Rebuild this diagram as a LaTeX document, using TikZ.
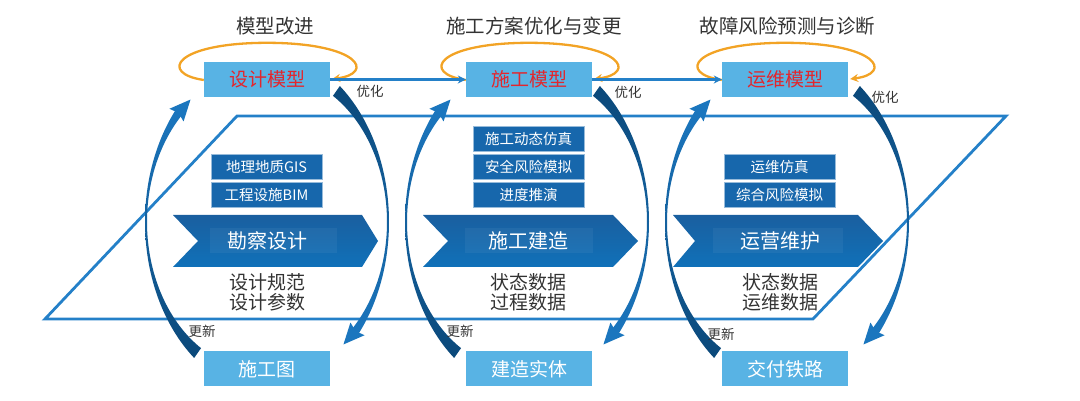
\documentclass[tikz,border=0pt]{standalone}
\usepackage{fontspec}
\setmainfont{Noto Sans CJK SC}
\usetikzlibrary{arrows.meta,calc}
\definecolor{boxblue}{HTML}{58B3E4}
\definecolor{subblue}{HTML}{1767AC}
\definecolor{linblue}{HTML}{2480C8}
\definecolor{navy}{HTML}{0B4879}
\definecolor{midblue}{HTML}{1B76BE}
\definecolor{chevtop}{HTML}{1A5F9F}
\definecolor{chevbot}{HTML}{1071B9}
\definecolor{orng}{HTML}{F2A325}
\definecolor{redtxt}{HTML}{E3262D}
\definecolor{graytxt}{HTML}{333333}
\newcommand\cyclearcs[1]{%
  \shade[top color=midblue, bottom color=navy]
    plot[domain=235:137, samples=60] ({#1+(122+5*((\x-180)/55)*((\x-180)/55))*cos(\x)}, {179+(161+5*((\x-180)/55)*((\x-180)/55))*sin(\x)})
    -- plot[domain=137:235, samples=60] ({#1+(120-5*((\x-180)/55)*((\x-180)/55))*cos(\x)}, {179+(159-5*((\x-180)/55)*((\x-180)/55))*sin(\x)}) -- cycle;
  \begin{scope}[shift={(#1-88.5,288.1)}, rotate=48]
    \fill[midblue] (-3,9.5) -- (18,0) -- (-3,-9.5) -- (0,0) -- cycle;
  \end{scope}
  \shade[top color=navy, bottom color=midblue]
    plot[domain=55:-43, samples=60] ({#1+(122+5*(\x/55)*(\x/55))*cos(\x)}, {179+(161+5*(\x/55)*(\x/55))*sin(\x)})
    -- plot[domain=-43:55, samples=60] ({#1+(120-5*(\x/55)*(\x/55))*cos(\x)}, {179+(159-5*(\x/55)*(\x/55))*sin(\x)}) -- cycle;
  \begin{scope}[shift={(#1+88.5,69.9)}, rotate=228]
    \fill[midblue] (-3,9.5) -- (18,0) -- (-3,-9.5) -- (0,0) -- cycle;
  \end{scope}
}
\begin{document}
\begin{tikzpicture}[x=1pt,y=1pt,
  modelbox/.style={fill=boxblue, minimum width=126pt, minimum height=35pt, inner sep=0pt, font=\fontsize{19}{22}\selectfont},
  subbox/.style={fill=subblue, draw=white!55!subblue, line width=0.8pt, minimum width=111pt, minimum height=25pt, inner sep=0pt, text=white, font=\fontsize{14.5}{17}\selectfont},
  chevtext/.style={text=white, font=\fontsize{20}{22}\selectfont},
  titletext/.style={text=graytxt, font=\fontsize{19.5}{22}\selectfont},
  smalltext/.style={text=graytxt, font=\fontsize{13.5}{16}\selectfont},
  datatext/.style={text=graytxt, font=\fontsize{19}{20}\selectfont, align=center},
  chev/.style={top color=chevtop, bottom color=chevbot},
  loopline/.style={orng, line width=2.3pt, -{Stealth[length=8pt,width=8pt]}},
  flowline/.style={linblue, line width=2.2pt, -{Stealth[length=8pt,width=8pt]}}
]
\useasboundingbox (0,0) rectangle (1080,401);
% parallelogram
\draw[linblue, line width=2.8pt, line join=miter] (45,82) -- (813,82) -- (1006,285) -- (237,285) -- cycle;
% chevrons
\shade[chev] (173,186) -- (362,186) -- (378,160) -- (362,134) -- (173,134) -- (198,160) -- cycle;
\shade[chev] (423,186) -- (613,186) -- (638,160) -- (613,134) -- (423,134) -- (448,160) -- cycle;
\shade[chev] (673,186) -- (858,186) -- (883,160) -- (858,134) -- (673,134) -- (695,160) -- cycle;
\fill[white, opacity=0.05] (210,148) rectangle (337,173);
\fill[white, opacity=0.05] (465,148) rectangle (593,173);
\fill[white, opacity=0.05] (713,148) rectangle (843,173);
\node[chevtext] (c1) at (267,160) {勘察设计};
\node[chevtext] (c2) at (528,160) {施工建造};
\node[chevtext] (c3) at (780,160) {运营维护};
% sub boxes
\node[subbox] (s11) at (266.5,234) {地理地质GIS};
\node[subbox] (s12) at (266.5,206) {工程设施BIM};
\node[subbox] (s21) at (528.5,262) {施工动态仿真};
\node[subbox] (s22) at (528.5,234) {安全风险模拟};
\node[subbox] (s23) at (528.5,206) {进度推演};
\node[subbox] (s31) at (779.5,234) {运维仿真};
\node[subbox] (s32) at (779.5,206) {综合风险模拟};
% data texts
\node[datatext] (d1) at (267,109) {设计规范\\设计参数};
\node[datatext] (d2) at (528,109) {状态数据\\过程数据};
\node[datatext] (d3) at (780,109) {状态数据\\运维数据};
% cycle arcs
\cyclearcs{267}
\cyclearcs{527}
\cyclearcs{787}
% titles
\node[titletext] (t1) at (275,375) {模型改进};
\node[titletext] (t2) at (534,375) {施工方案优化与变更};
\node[titletext] (t3) at (787.5,375) {故障风险预测与诊断};
% model boxes
\node[modelbox, text=redtxt] (m1) at (267,321.5) {设计模型};
\node[modelbox, text=redtxt] (m2) at (529,321.5) {施工模型};
\node[modelbox, text=redtxt] (m3) at (785,321.5) {运维模型};
\node[modelbox, text=white] (b1) at (266.5,32) {施工图};
\node[modelbox, text=white] (b2) at (529,32) {建造实体};
\node[modelbox, text=white] (b3) at (785,32) {交付铁路};
% labels
\node[smalltext] (u1) at (370,310) {优化};
\node[smalltext] (u2) at (628,309) {优化};
\node[smalltext] (u3) at (885,304) {优化};
\node[smalltext] (g1) at (202,70) {更新};
\node[smalltext] (g2) at (460,70) {更新};
\node[smalltext] (g3) at (721,67) {更新};
% orange loops
\foreach \m in {m1,m2,m3}{
  \draw[loopline] ($(\m.west)+(0,-0.5)$) .. controls ($(\m.west)+(-45,6)$) and ($(\m.west)+(-30,36.5)$) .. ($(\m.north)+(0,19)$)
     .. controls ($(\m.east)+(30,36.5)$) and ($(\m.east)+(45,6)$) .. ($(\m.east)+(2,0.5)$);
}
% flow lines
\draw[flowline] (m1.east) -- (m2.west);
\draw[flowline] (m2.east) -- (m3.west);
\end{tikzpicture}
\end{document}
